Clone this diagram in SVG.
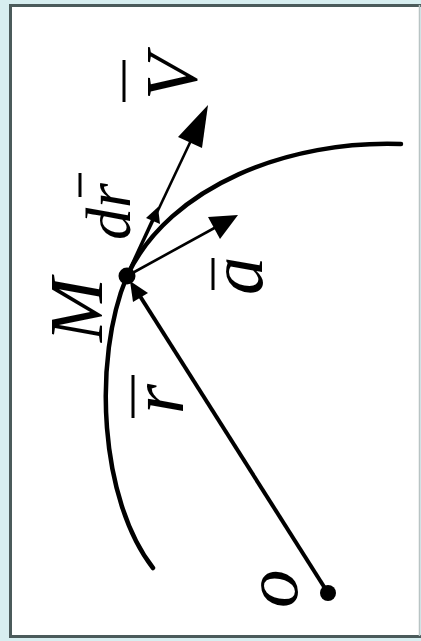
<svg xmlns="http://www.w3.org/2000/svg" width="421" height="641" viewBox="0 0 421 641">
  <style>
    .lbl { font-family: "Liberation Serif", "Times New Roman", serif; font-style: italic; fill: #000; }
    .bar { stroke: #000; stroke-width: 3; }
    .curve { fill: none; stroke: #000; stroke-width: 4.5; stroke-linecap: round; }
    .vec { stroke: #000; fill: none; }
    .head { fill: #000; }
  </style>
  <rect x="0" y="0" width="421" height="641" fill="#d7eef0"/>
  <rect x="10" y="5" width="409" height="632" fill="#ffffff"/>
  <g id="frame" fill="none">
    <line x1="10.5" y1="4" x2="10.5" y2="638" stroke="#4b5b5b" stroke-width="3"/>
    <line x1="9" y1="5.5" x2="421" y2="5.5" stroke="#4b5b5b" stroke-width="3"/>
    <line x1="9" y1="636.5" x2="421" y2="636.5" stroke="#4b5b5b" stroke-width="3"/>
    <line x1="419.5" y1="5" x2="419.5" y2="636" stroke="#b9c4c4" stroke-width="1.5"/>
  </g>

  <g id="trajectory">
    <path class="curve" d="M153,568 C100,500 92,360 127,276 C170,185 290,140 401,144"/>
  </g>

  <g id="connectors">
    <!-- position vector r from O to M -->
    <line class="vec" x1="328" y1="593" x2="138" y2="293" stroke-width="4"/>
    <polygon class="head" points="130,281 148,293 133,302"/>
    <!-- velocity V -->
    <line class="vec" x1="127" y1="276" x2="195" y2="132" stroke-width="2.6"/>
    <polygon class="head" points="208,105 202,148 178,137"/>
    <!-- dr -->
    <line class="vec" x1="128" y1="272" x2="152" y2="220" stroke-width="2.2"/>
    <polygon class="head" points="158,207 160,224 146,218"/>
    <!-- acceleration a -->
    <line class="vec" x1="127" y1="276" x2="218" y2="226" stroke-width="2.6"/>
    <polygon class="head" points="238,215 220,239 208,217"/>
  </g>

  <g id="node-M">
    <circle cx="127" cy="276" r="8.5" fill="#000"/>
    <text class="lbl" font-size="77" transform="translate(102,342) rotate(-90)">M</text>
  </g>
  <g id="node-O">
    <circle cx="328" cy="593" r="8" fill="#000"/>
    <text class="lbl" font-size="77" transform="translate(297,608) rotate(-90)">o</text>
  </g>
  <g id="label-V">
    <text class="lbl" font-size="75" transform="translate(197,100) rotate(-90)">V</text>
    <line class="bar" x1="124" y1="60" x2="124" y2="102"/>
  </g>
  <g id="label-dr">
    <text class="lbl" font-size="64" transform="translate(130,240) rotate(-90)">dr</text>
    <line class="bar" x1="80" y1="173" x2="80" y2="197"/>
  </g>
  <g id="label-a">
    <text class="lbl" font-size="77" transform="translate(262,295) rotate(-90)">a</text>
    <line class="bar" x1="213" y1="258" x2="213" y2="290"/>
  </g>
  <g id="label-r">
    <text class="lbl" font-size="77" transform="translate(183,414) rotate(-90)">r</text>
    <line class="bar" x1="133" y1="375" x2="133" y2="418"/>
  </g>
</svg>
